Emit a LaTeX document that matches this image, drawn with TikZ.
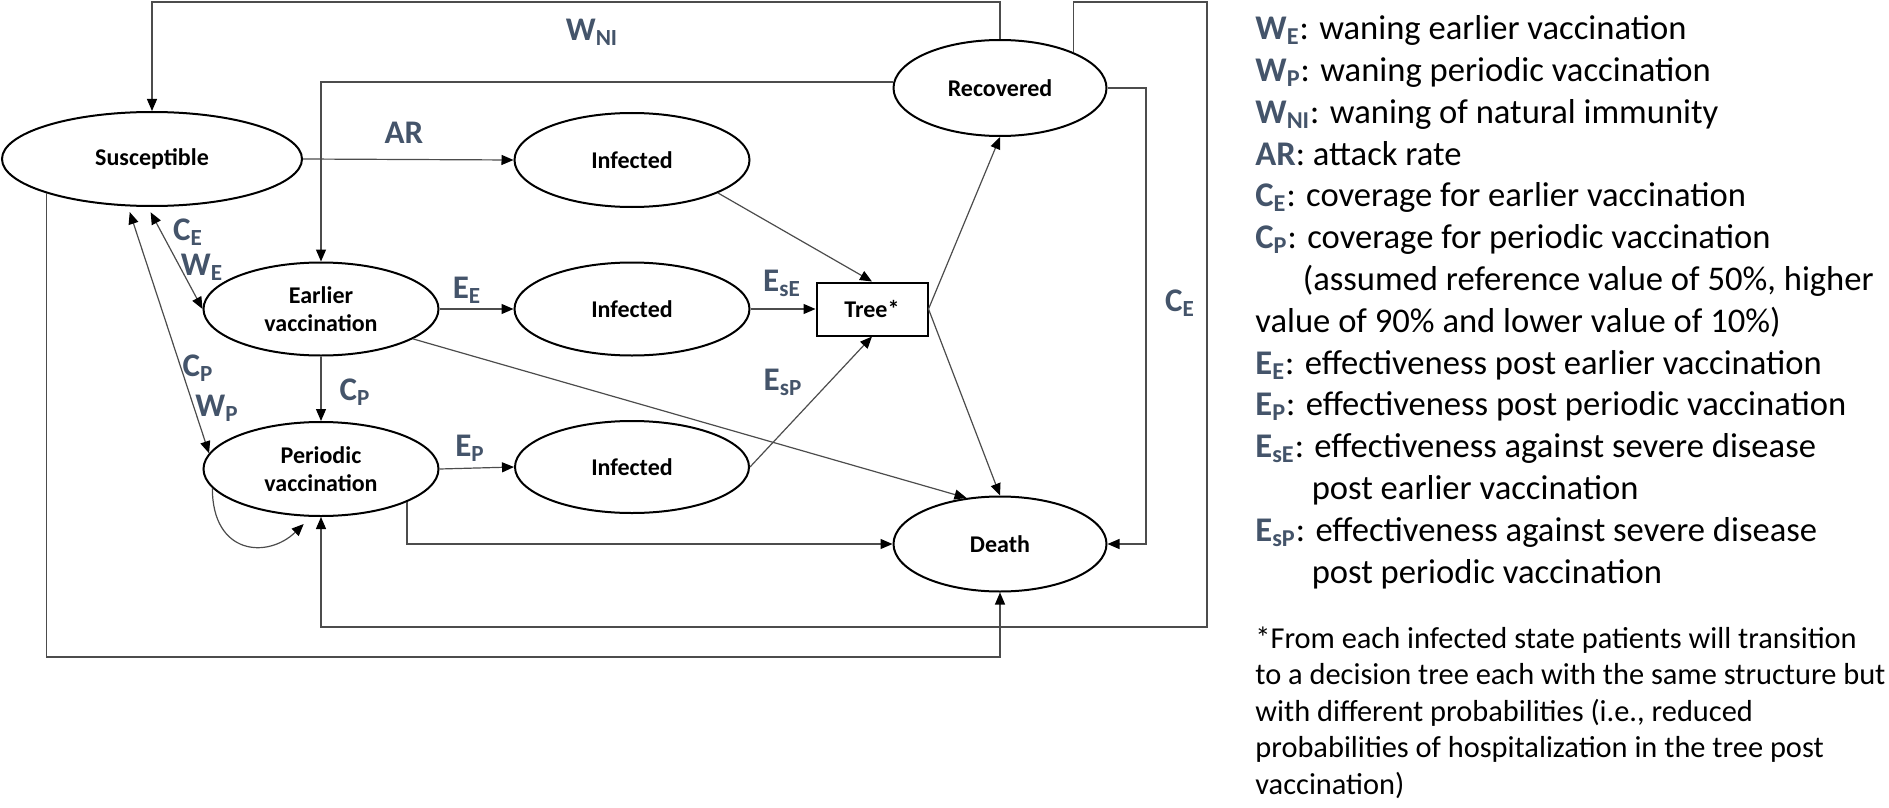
\documentclass[tikz,border=0pt]{standalone}
\usepackage{fontspec}
\setmainfont{Carlito}
\usetikzlibrary{arrows.meta,shapes.geometric}
\definecolor{rateblue}{HTML}{44546A}
\newcommand\ratesym[2]{\textcolor{rateblue}{\textbf{#1\textsubscript{#2}}}}

\tikzset{
  state/.style={ellipse,draw,line width=1pt,inner sep=0pt,align=center,
    font=\fontsize{12}{14}\selectfont\bfseries},
  rate/.style={text=rateblue,font=\fontsize{16.5}{18}\selectfont\bfseries},
  link/.style={line width=0.6pt,draw=black!70},
  >={Triangle[length=6pt,width=5pt,color=black]}
}

\begin{document}
\begin{tikzpicture}[x=0.5pt,y=-0.5pt]
\useasboundingbox (0,0) rectangle (1889,808);

% states
\node[state,minimum width=150pt,minimum height=47pt] (sus) at (152,159) {Susceptible};
\node[state,minimum width=117.5pt,minimum height=47pt] (inf1) at (632,160) {Infected};
\node[state,minimum width=106.5pt,minimum height=48pt] (rec) at (1000,88) {Recovered};
\node[state,minimum width=117.5pt,minimum height=46.5pt] (ev) at (321,309) {Earlier\\vaccination};
\node[state,minimum width=117.5pt,minimum height=46.5pt] (inf2) at (632,309) {Infected};
\node[draw,line width=1pt,minimum width=55.5pt,minimum height=26.5pt,
  font=\fontsize{12}{14}\selectfont\bfseries] (tree) at (872,309) {Tree*};
\node[state,minimum width=117.5pt,minimum height=47pt] (pv) at (321,469) {Periodic\\vaccination};
\node[state,minimum width=117pt,minimum height=46pt] (inf3) at (632,467) {Infected};
\node[state,minimum width=106.5pt,minimum height=47.5pt] (death) at (1000,544) {Death};

% routing levels
\coordinate (top) at (0,2);
\coordinate (bot) at (0,657);
\coordinate (far) at (1207,627);
\coordinate (ce) at (1146,544);

% waning of natural immunity
\draw[link,->] (rec.north) -- (rec.north |- top) -| (sus.north);
\draw[link,->] ([yshift=3pt]rec.west) -| (ev.north);

% infection
\draw[link,->] (sus.east) -- (inf1.west);
\draw[link,->] (ev.east) -- (inf2.west);
\draw[link,->] (pv.east) -- (inf3.west);

% tree in and out
\draw[link,->] (inf1.-21) -- (tree.north);
\draw[link,->] (inf2.east) -- (tree.west);
\draw[link,->] (inf3.east) -- (tree.south);
\draw[link,->] (tree.east) -- (rec.south);
\draw[link,->] (tree.east) -- (death.north);

% vaccination
\draw[link,<->,shorten <=3pt] (sus.265) -- (ev.west);
\draw[link,<->,shorten <=3pt] (sus.243) -- (pv.172);
\draw[link,->] (ev.south) -- (pv.north);
\draw[link,->] (pv.190) .. controls +(0,-33.5pt) and +(-18pt,-17.5pt) .. ([yshift=-3.75pt]pv.250);

% death
\draw[link,->] (ev.-18.6) -- (death.126.7);
\draw[link,->] (pv.-21) |- (death.west);
\draw[link,->] (rec.east) -| (ce) -- (death.east);
\draw[link,->] (sus.198) -- (sus.198 |- bot) -| (death.south);
\draw[link,->] (rec.26) |- (far |- top) -- (far) -| (pv.south);

% rates
\node[rate] (wni) at (592,32) {W\textsubscript{NI}};
\node[rate] (ar) at (404,133) {AR};
\node[rate] (cea) at (188,232) {C\textsubscript{E}};
\node[rate] (we) at (202,267) {W\textsubscript{E}};
\node[rate] (ee) at (467,290) {E\textsubscript{E}};
\node[rate] (cpa) at (198,368) {C\textsubscript{P}};
\node[rate] (wp) at (217,408) {W\textsubscript{P}};
\node[rate] (cpb) at (355,392) {C\textsubscript{P}};
\node[rate] (ep) at (470,448) {E\textsubscript{P}};
\node[rate] (ese) at (782,283) {E\textsubscript{sE}};
\node[rate] (esp) at (783,382) {E\textsubscript{sP}};
\node[rate] (ceb) at (1180,303) {C\textsubscript{E}};

% legend (anchored on the baseline of its last line)
\node[anchor=base west,align=left,inner sep=0pt,font=\fontsize{17.3}{20.9}\selectfont] (legend) at (1255,583) {%
\ratesym{W}{E}: waning earlier vaccination\\
\ratesym{W}{P}: waning periodic vaccination\\
\ratesym{W}{NI}: waning of natural immunity\\
\textcolor{rateblue}{\textbf{AR}}: attack rate\\
\ratesym{C}{E}: coverage for earlier vaccination\\
\ratesym{C}{P}: coverage for periodic vaccination\\
\hspace*{23.7pt}(assumed reference value of 50\%, higher\\
value of 90\% and lower value of 10\%)\\
\ratesym{E}{E}: effectiveness post earlier vaccination\\
\ratesym{E}{P}: effectiveness post periodic vaccination\\
\ratesym{E}{sE}: effectiveness against severe disease\\
\hspace*{28.2pt}post earlier vaccination\\
\ratesym{E}{sP}: effectiveness against severe disease\\
\hspace*{28.2pt}post periodic vaccination};
\node[anchor=base west,align=left,inner sep=0pt,font=\fontsize{15.2}{18.25}\selectfont] (note) at (1255,794) {%
*From each infected state patients will transition\\
to a decision tree each with the same structure but\\
with different probabilities (i.e., reduced\\
probabilities of hospitalization in the tree post\\
vaccination)};
\end{tikzpicture}
\end{document}
